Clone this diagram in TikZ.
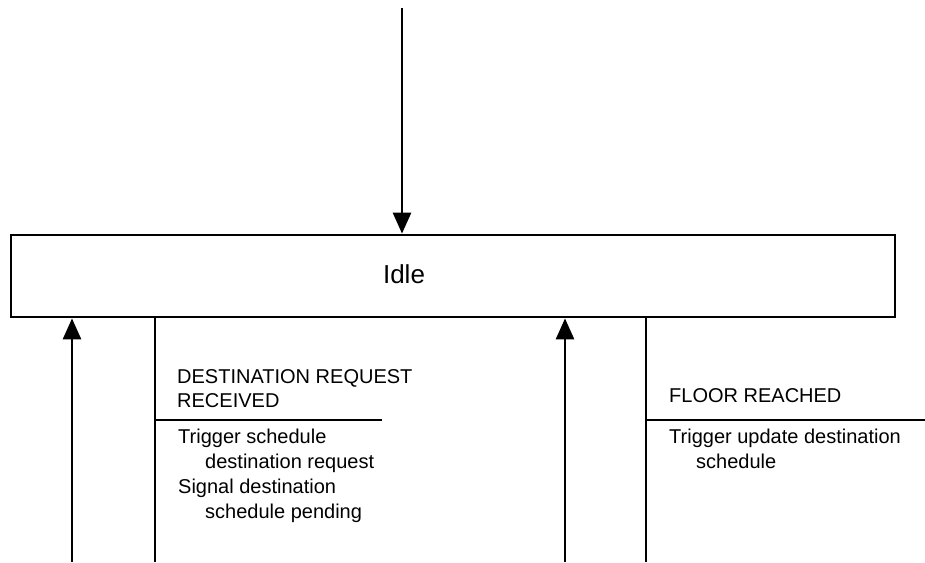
\documentclass[tikz,border=0pt]{standalone}
\usepackage{fontspec}
\setmainfont{Liberation Sans}
\usetikzlibrary{arrows.meta}
\begin{document}
\begin{tikzpicture}[x=1pt,y=-1pt,
  line/.style={line width=2.8pt},
  arr/.style={line width=2.8pt, -{Triangle[length=21pt,width=18pt]}},
  statebox/.style={draw, line width=2.8pt, minimum width=884pt, minimum height=82pt, inner sep=0pt},
  lbl/.style={anchor=base west, inner sep=0pt, font=\fontsize{20}{25}\selectfont},
  title/.style={anchor=base, inner sep=0pt, font=\fontsize{26}{30}\selectfont}
]
\useasboundingbox (0,0) rectangle (925,562);
% state
\node[statebox] (idle) at (453,276) {};
\node[title] (idlelabel) at (404,283) {Idle};
% coordinates
\coordinate (topstart) at (402,8);
\coordinate (a1) at (72,562);
\coordinate (b1) at (155,562);
\coordinate (a2) at (565,562);
\coordinate (b2) at (646,562);
\coordinate (h1e) at (382,420);
\coordinate (h2e) at (925,420);
% connectors
\draw[arr] (topstart) -- (topstart |- idle.north);
\draw[arr] (a1) -- (a1 |- idle.south);
\draw[arr] (a2) -- (a2 |- idle.south);
\draw[line] (b1 |- idle.south) -- (b1);
\draw[line] (b2 |- idle.south) -- (b2);
\draw[line] (b1 |- h1e) -- (h1e);
\draw[line] (b2 |- h2e) -- (h2e);
% left transition texts
\node[lbl] (t1) at (177,383) {DESTINATION REQUEST};
\node[lbl] (t2) at (177,407) {RECEIVED};
\node[lbl] (t3) at (178,443) {Trigger schedule};
\node[lbl] (t4) at (205,468) {destination request};
\node[lbl] (t5) at (178,493) {Signal destination};
\node[lbl] (t6) at (205,518) {schedule pending};
% right transition texts
\node[lbl] (r1) at (669,402) {FLOOR REACHED};
\node[lbl] (r2) at (669,443) {Trigger update destination};
\node[lbl] (r3) at (696,468) {schedule};
\end{tikzpicture}
\end{document}
